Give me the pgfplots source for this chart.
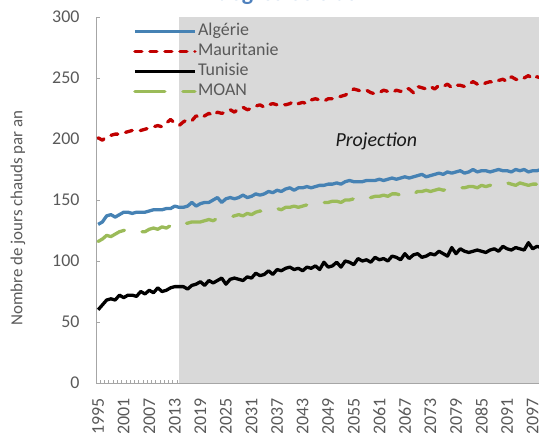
\documentclass[border=0pt]{standalone}
\usepackage{fontspec}
\setmainfont{Carlito}
\usepackage{pgfplots}
\pgfplotsset{compat=1.18}
\usepackage{pgfplotstable}

\definecolor{alg}{HTML}{4682B4}
\definecolor{mau}{HTML}{C00000}
\definecolor{moan}{HTML}{9BBB59}
\definecolor{tickgray}{HTML}{595959}
\definecolor{axgray}{HTML}{A6A6A6}
\definecolor{shade}{HTML}{D9D9D9}
\definecolor{ttl}{HTML}{4F81BD}

\pgfplotstableread{
year alg mau tun moan
1995 130 201 60 116
1996 132 199 64 118
1997 137 202 68 121
1998 138 203 69 120
1999 136 204 68 122
2000 138 204 72 124
2001 140 205 70 125
2002 140 206 72 126
2003 139 207 72 125
2004 140 207 71 124
2005 140 207 75 124
2006 140 208 73 124
2007 141 209 76 126
2008 142 210 74 127
2009 142 211 78 126
2010 142 210 75 128
2011 143 213 76 127
2012 143 216 78 129
2013 145 213 79 128
2014 144 211 79 130
2015 144 214 79 131
2016 145 216 77 131
2017 148 215 80 132
2018 145 219 81 132
2019 147 217 83 132
2020 148 219 80 133
2021 148 221 84 134
2022 150 219 82 133
2023 152 222 84 135
2024 148 221 86 135
2025 151 222 81 136
2026 152 224 85 136
2027 151 222 86 137
2028 152 225 85 138
2029 154 226 84 137
2030 152 224 87 139
2031 153 225 86 138
2032 155 227 90 140
2033 154 228 88 141
2034 155 226 89 140
2035 157 228 92 141
2036 156 229 89 142
2037 158 228 93 143
2038 157 229 92 142
2039 159 228 94 144
2040 160 229 95 144
2041 158 231 93 145
2042 160 229 94 144
2043 160 230 92 145
2044 161 229 95 146
2045 160 232 94 146
2046 161 233 96 147
2047 162 232 93 147
2048 162 231 99 148
2049 163 233 95 148
2050 163 233 96 149
2051 164 234 99 149
2052 163 235 95 148
2053 165 236 100 150
2054 166 238 99 150
2055 165 241 97 151
2056 165 240 102 151
2057 165 239 100 150
2058 166 240 101 152
2059 166 238 99 152
2060 166 237 103 153
2061 167 238 101 153
2062 166 240 102 154
2063 167 239 100 153
2064 168 238 104 155
2065 167 240 103 155
2066 168 239 101 154
2067 169 242 106 156
2068 168 241 102 156
2069 169 238 105 155
2070 170 243 106 157
2071 171 242 103 157
2072 169 241 104 158
2073 170 243 106 157
2074 171 241 105 158
2075 172 244 108 159
2076 171 243 106 158
2077 173 245 104 159
2078 172 242 111 160
2079 173 244 106 159
2080 174 244 110 160
2081 172 243 108 160
2082 173 245 107 161
2083 175 247 108 161
2084 173 245 109 160
2085 174 244 108 162
2086 174 246 107 161
2087 173 247 109 162
2088 174 246 110 163
2089 175 248 108 162
2090 174 249 112 163
2091 174 247 110 164
2092 173 251 109 163
2093 175 249 111 162
2094 174 248 110 164
2095 175 250 109 163
2096 173 252 115 162
2097 174 249 110 163
2098 174 251 112 163
2099 175 250 111 164
2100 174 251 112 163
}\data

\begin{document}
\begin{tikzpicture}
\path[use as bounding box, clip] (0,0) rectangle (539bp,433bp);
% title, cut by the top edge as in the reference
\node[anchor=base, font=\fontsize{24}{26}\selectfont\bfseries, text=ttl] at (287bp,432bp) {degrés Celsius};
\begin{axis}[
  at={(96bp,50bp)}, anchor=south west,
  scale only axis, width=451.6bp, height=366bp,
  xmin=1994.5, xmax=2100.5, ymin=0, ymax=300,
  axis x line*=bottom, axis y line*=left,
  axis line style={draw=axgray, line width=0.8bp, -},
  xtick={1995,2001,...,2097},
  minor xtick={1994.5,1995.5,...,2100.5},
  ytick={0,50,...,300},
  major x tick style={draw=none},
  minor tick length=3bp, major tick length=4bp,
  tick align=inside,
  tick style={axgray, line width=0.6bp},
  /pgf/number format/assume math mode=true,
  xticklabel={\pgfmathprintnumber[1000 sep={}]{\tick}},
  xticklabel style={yshift=-12bp, rotate=90, anchor=east, text=tickgray, font=\fontsize{18}{18}\selectfont},
  yticklabel style={anchor=east, xshift=-13bp, text=tickgray, font=\fontsize{18}{18}\selectfont},
  legend image code/.code={\draw[#1] (0bp,0bp) -- (60bp,0bp);},
  legend cell align=left,
  legend style={draw=none, fill=none, at={(0.082,0.989)}, anchor=north west,
    font=\fontsize{18}{20}\selectfont, text=tickgray, inner sep=0pt,
    nodes={inner sep=1.5bp, text height=13bp, text depth=4bp}},
]
\addplot[draw=none, fill=shade, forget plot] coordinates {(2014,300) (2100.5,300)} \closedcycle;
\addplot[alg, line width=3.3bp, line join=round] table[x=year, y=alg] {\data};
\addlegendentry{Algérie}
\addplot[mau, line width=3.3bp, line cap=round, line join=round, dash pattern=on 7bp off 8bp] table[x=year, y=mau] {\data};
\addlegendentry{Mauritanie}
\addplot[black, line width=3.3bp, line join=round] table[x=year, y=tun] {\data};
\addlegendentry{Tunisie}
\addplot[moan, line width=3.3bp, line cap=round, line join=round, dash pattern=on 30bp off 18bp] table[x=year, y=moan] {\data};
\addlegendentry{MOAN}
\node[font=\fontsize{20}{22}\selectfont\itshape, text=black!90] at (axis cs:2060.3,198) {Projection};
\end{axis}
\node[rotate=90, font=\fontsize{17}{19}\selectfont, text=tickgray] at (18bp,215bp) {Nombre de jours chauds par an};
\end{tikzpicture}
\end{document}
